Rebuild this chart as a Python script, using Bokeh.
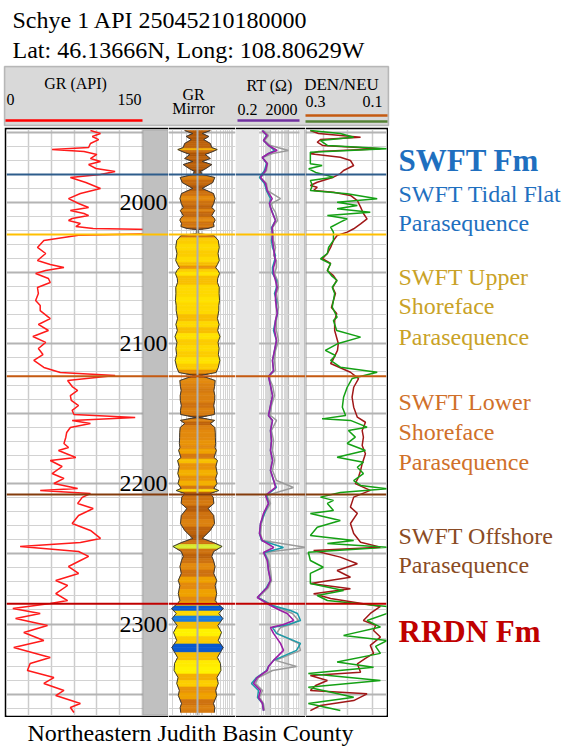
import numpy as np
from bokeh.plotting import figure
from bokeh.layouts import row, column, Spacer
from bokeh.models import Range1d, FixedTicker, Span, BoxAnnotation, LinearColorMapper, ColumnDataSource
from bokeh.core.properties import value
from bokeh.embed import file_html
from bokeh.resources import INLINE

gr_depth = [1948.8, 1950.9, 1953.0, 1955.2, 1958.0, 1960.9, 1962.3, 1963.7, 1965.8, 1968.7,
            1970.8, 1973.0, 1975.8, 1977.9, 1980.1, 1982.2, 1985.8, 1990.0, 1993.6, 1997.2,
            2000.7, 2003.6, 2005.7, 2007.8, 2009.3, 2011.4, 2012.8, 2014.9, 2017.1, 2018.5,
            2019.2, 2022.3, 2023.3, 2027.0, 2032.0, 2036.3, 2041.3, 2044.1, 2046.3, 2048.4,
            2050.5, 2054.1, 2056.9, 2060.5, 2064.8, 2069.7, 2073.3, 2076.9, 2082.6, 2086.8,
            2091.1, 2095.4, 2099.6, 2103.9, 2108.2, 2112.4, 2117.4, 2121.0, 2123.1, 2126.7,
            2131.0, 2133.8, 2137.4, 2140.9, 2144.5, 2148.0, 2150.9, 2153.0, 2155.1, 2157.3,
            2160.1, 2163.7, 2167.2, 2171.5, 2174.4, 2176.5, 2181.5, 2183.6, 2187.9, 2192.9,
            2196.4, 2200.0, 2203.5, 2205.0, 2207.1, 2209.9, 2214.2, 2217.8, 2222.8, 2228.5,
            2233.4, 2239.1, 2242.0, 2244.8, 2248.4, 2251.9, 2254.8, 2259.1, 2264.0, 2269.0,
            2272.6, 2278.3, 2283.3, 2285.4, 2289.0, 2292.5, 2296.1, 2301.1, 2306.0, 2311.7,
            2316.7, 2323.8, 2328.1, 2333.1, 2338.1, 2342.3, 2347.3, 2350.9, 2356.6, 2359.4,
            2363.0]
gr_api = [93, 104, 95, 102, 93, 91, 51, 86, 100, 93,
          104, 91, 99, 120, 104, 71, 88, 104, 82, 69,
          80, 91, 71, 86, 91, 73, 69, 82, 77, 96,
          160, 160, 80, 42, 35, 44, 35, 49, 64, 44,
          33, 47, 49, 35, 36, 33, 38, 38, 49, 36,
          47, 30, 44, 36, 41, 31, 42, 60, 120, 68,
          73, 79, 71, 72, 80, 73, 75, 142, 73, 93,
          71, 67, 66, 64, 69, 58, 77, 49, 62, 51,
          64, 53, 79, 38, 93, 84, 79, 96, 80, 73,
          93, 104, 82, 16, 80, 91, 82, 69, 80, 55,
          68, 55, 68, 49, 8, 38, 11, 46, 20, 42,
          9, 49, 27, 24, 53, 42, 64, 55, 82, 71,
          75]

rt_depth = [1948.8, 1952.3, 1955.9, 1959.4, 1963.0, 1965.1, 1968.0, 1972.2, 1977.2, 1982.2,
            1986.5, 1991.5, 1997.2, 2000.7, 2003.6, 2007.1, 2012.8, 2017.8, 2022.1, 2027.0,
            2032.0, 2037.7, 2041.3, 2046.3, 2050.5, 2055.5, 2060.5, 2064.8, 2069.7, 2074.7,
            2079.0, 2084.0, 2091.1, 2098.2, 2105.3, 2112.4, 2119.6, 2123.8, 2130.2, 2137.4,
            2144.5, 2151.6, 2155.1, 2162.3, 2169.4, 2176.5, 2183.6, 2190.7, 2197.9, 2202.8,
            2208.5, 2214.2, 2221.3, 2228.5, 2235.6, 2240.6, 2245.5, 2249.1, 2254.8, 2261.9,
            2269.0, 2274.0, 2281.1, 2286.8, 2290.4, 2292.5, 2297.5, 2300.3, 2302.5, 2306.7,
            2313.8, 2318.8, 2325.9, 2330.2, 2333.1, 2338.1, 2342.3, 2347.3, 2352.3, 2356.6,
            2361.6]
rt_deep = [6.71, 13.0, 7.96, 15.4, 48.3, 15.4, 6.71, 13.0, 10.4, 5.37,
           10.4, 13.0, 25.0, 17.5, 20, 25.0, 38.6, 25.0, 25.0, 26.0,
           29.7, 33.9, 38.6, 29.7, 29.7, 38.6, 48.3, 38.6, 38.6, 44.0,
           48.3, 38.6, 33.9, 44.0, 33.9, 26.0, 29.7, 15.4, 20, 26.0,
           20, 15.4, 26.0, 20, 22.8, 20, 26.0, 20, 30.9, 38.6,
           10.4, 15.4, 7.96, 5.37, 4.70, 6.71, 30.9, 7.96, 13.0, 15.4,
           20, 13.0, 3.48, 20, 74.5, 180, 429, 111, 20, 29.7,
           74.5, 111, 29.7, 15.4, 13.0, 3.48, 2.14, 5.37, 4.12, 6.98,
           7.96]
rt_medium = [6.98, 11.8, 7.96, 15.4, 33.9, 15.4, 6.98, 11.8, 9.08, 4.70,
             9.08, 11.8, 20, 17.5, 20, 26.0, 38.6, 22.8, 26.0, 22.8,
             26.0, 38.6, 33.9, 26.0, 26.0, 44.0, 44.0, 33.9, 44.0, 44.0,
             50.2, 38.6, 29.7, 44.0, 33.9, 26.0, 29.7, 15.4, 20, 26.0,
             20, 15.4, 26.0, 20, 22.8, 20, 26.0, 20, 29.7, 44.0,
             11.8, 15.4, 9.08, 5.37, 4.70, 6.12, 111, 9.08, 13.5, 15.4,
             20, 11.8, 3.62, 26.0, 278, 698, 1036, 214, 26.0, 44.0,
             1036, 612, 29.7, 15.4, 11.8, 3.17, 1.64, 4.12, 3.62, 6.98,
             7.96]
rt_shallow = [7.96, 15.4, 9.08, 20, 214, 26.0, 6.98, 13.5, 11.8, 5.37,
              11.8, 13.5, 74.5, 22.8, 26.0, 38.6, 50.2, 26.0, 29.7, 29.7,
              38.6, 29.7, 44.0, 44.0, 33.9, 50.2, 57.3, 44.0, 50.2, 57.3,
              50.2, 44.0, 44.0, 57.3, 38.6, 33.9, 38.6, 15.4, 26.0, 33.9,
              22.8, 20, 44.0, 22.8, 29.7, 26.0, 33.9, 26.0, 44.0, 412,
              11.8, 20, 9.08, 6.12, 5.37, 6.98, 2000, 9.08, 15.4, 20,
              22.8, 15.4, 4.12, 26.0, 144, 362, 796, 278, 74.5, 44.0,
              796, 1036, 38.6, 612, 26.0, 4.12, 2.78, 6.98, 4.70, 7.96,
              9.08]

den_depth = [1948.8, 1950.9, 1953.5, 1955.2, 1957.1, 1959.4, 1961.8, 1963.7, 1965.3, 1967.8,
             1970.1, 1973.7, 1977.2, 1979.4, 1982.0, 1985.6, 1987.9, 1989.1, 1991.5, 1992.7,
             1995.0, 1998.6, 2003.3, 2007.8, 2011.6, 2015.2, 2018.7, 2021.1, 2023.5, 2027.0,
             2032.0, 2036.3, 2039.9, 2043.4, 2048.4, 2052.0, 2055.5, 2060.5, 2064.8, 2069.7,
             2074.7, 2079.0, 2084.0, 2091.1, 2100.3, 2105.3, 2112.4, 2114.6, 2120.8, 2125.3,
             2131.5, 2138.6, 2145.7, 2152.8, 2156.4, 2162.3, 2167.0, 2172.9, 2178.8, 2185.9,
             2190.7, 2195.4, 2200.1, 2204.9, 2209.7, 2216.8, 2221.3,
             2228.5, 2235.6, 2241.8, 2245.3, 2247.7, 2252.4, 2257.1, 2261.9, 2266.7, 2271.2,
             2274.9, 2278.5, 2281.8, 2287.5, 2292.5, 2297.5, 2301.0, 2304.6, 2309.3, 2315.2,
             2320.9, 2324.5, 2328.3, 2334.3, 2336.6, 2340.2, 2343.8, 2347.3, 2349.7, 2354.5,
             2358.0, 2361.6]
den = [0.288, 0.268, 0.164, 0.263, 0.271, 0.258, 0.115, 0.268, 0.288, 0.214,
       0.189, 0.181, 0.206, 0.214, 0.231, 0.271, 0.288, 0.271, 0.280, 0.231,
       0.189, 0.172, 0.164, 0.157, 0.148, 0.164, 0.181, 0.197, 0.222, 0.231,
       0.238, 0.246, 0.258, 0.238, 0.246, 0.231, 0.223, 0.233, 0.226, 0.231,
       0.236, 0.223, 0.228, 0.228, 0.219, 0.221, 0.233, 0.238, 0.189, 0.169,
       0.181, 0.185, 0.181, 0.172, 0.152, 0.160, 0.157, 0.160, 0.152, 0.160,
       0.164, 0.169, 0.177, 0.140, 0.181, 0.189, 0.172,
       0.189, 0.181, 0.164, 0.115, 0.280, 0.214, 0.172, 0.222, 0.189, 0.288,
       0.189, 0.280, 0.238, 0.115, 0.140, 0.157, 0.127, 0.132, 0.115, 0.140,
       0.132, 0.152, 0.172, 0.164, 0.288, 0.246, 0.275, 0.288, 0.148, 0.181,
       0.263, 0.288]

neu_depth = [1948.8, 1950.9, 1953.5, 1955.9, 1959.4, 1961.8, 1964.2, 1968.7, 1972.5, 1973.7,
             1976.0, 1978.6, 1980.8, 1982.0, 1984.3, 1987.9, 1991.5, 1993.8, 1997.4, 1999.8,
             2002.1, 2004.5, 2006.9, 2009.3, 2011.6, 2014.0, 2017.6, 2021.1, 2023.5, 2027.0,
             2032.0, 2036.3, 2040.1, 2043.6, 2048.4, 2052.0, 2055.5, 2060.3, 2064.8, 2069.7,
             2074.5, 2081.6, 2084.0, 2091.1, 2095.8, 2100.3, 2105.3, 2108.9, 2112.4, 2117.2,
             2120.8, 2125.3, 2131.5, 2138.6, 2145.7, 2151.6, 2154.0, 2155.1, 2159.9, 2162.3,
             2167.0, 2171.5, 2176.5, 2181.3, 2184.8, 2188.4, 2192.9, 2197.9, 2201.4, 2203.8,
             2206.4, 2209.7, 2212.0, 2214.2, 2219.2, 2221.3, 2226.3, 2231.1, 2237.0,
             2240.6, 2242.7, 2245.3, 2248.9, 2254.8, 2259.6, 2264.0, 2271.2, 2276.1, 2279.7,
             2283.3, 2287.5, 2292.5, 2297.5, 2302.2, 2308.1, 2311.7, 2315.9, 2320.9, 2327.1,
             2330.7, 2335.2, 2340.2, 2345.0, 2352.1, 2356.6, 2361.6]
neu = [0.288, 0.214, 0.181, 0.263, 0.246, 0.098, 0.288, 0.288, 0.288, 0.259,
       0.292, 0.275, 0.246, 0.231, 0.288, 0.283, 0.288, 0.197, 0.123, 0.222,
       0.172, 0.222, 0.140, 0.246, 0.197, 0.214, 0.238, 0.231, 0.231, 0.231,
       0.243, 0.246, 0.263, 0.238, 0.246, 0.236, 0.222, 0.234, 0.228, 0.231,
       0.234, 0.222, 0.231, 0.223, 0.164, 0.219, 0.251, 0.226, 0.238, 0.214,
       0.123, 0.185, 0.197, 0.206, 0.209, 0.201, 0.259, 0.189, 0.148, 0.194,
       0.177, 0.197, 0.152, 0.222, 0.157, 0.172, 0.157, 0.181, 0.164, 0.098,
       0.214, 0.263, 0.231, 0.246, 0.231, 0.288, 0.214, 0.271, 0.288,
       0.181, 0.246, 0.098, 0.293, 0.288, 0.256, 0.288, 0.288, 0.206, 0.271,
       0.246, 0.098, 0.098, 0.148, 0.115, 0.206, 0.098, 0.127, 0.115, 0.222,
       0.132, 0.293, 0.115, 0.293, 0.181, 0.293, 0.214]

tops_depth = [1980.1, 2022.8, 2123.6, 2207.8, 2285.6]
tops_color = ["#2e5d8c", "#ffc000", "#c55a11", "#843c0c", "#c00000"]

depth_labels = [2000, 2100, 2200, 2300]

zone_text = ["SWFT Tidal Flat", "Parasequence", "SWFT Upper", "Shoreface", "Parasequence",
             "SWFT Lower", "Shoreface", "Parasequence", "SWFT Offshore", "Parasequence"]
zone_depth = [1993.9, 2014.5, 2052.7, 2074.0, 2095.4, 2142.3, 2163.7, 2185.0, 2237.7, 2258.3]
zone_color = ["#1f70c0", "#1f70c0", "#c9a227", "#c9a227", "#c9a227",
              "#d0702a", "#d0702a", "#d0702a", "#8a4b24", "#8a4b24"]
fm_text = ["SWFT Fm", "RRDN Fm"]
fm_depth = [1970.1, 2305.3]
fm_color = ["#1f6fbf", "#c00000"]

for a, b in [(gr_depth, gr_api), (rt_depth, rt_deep), (rt_depth, rt_medium), (rt_depth, rt_shallow),
             (den_depth, den), (neu_depth, neu), (zone_text, zone_depth)]:
    assert len(a) == len(b), (len(a), len(b))

# ---------------- layout constants (page pixels) ----------------
SERIF = "Liberation Serif"
PX_PER_FT = 1.405
Y_2000 = 202.0
FRAME_TOP, FRAME_BOT = 129, 715
D_TOP = 2000 + (FRAME_TOP - Y_2000) / PX_PER_FT
D_BOT = 2000 + (FRAME_BOT - Y_2000) / PX_PER_FT
TRACK_H = (FRAME_BOT - FRAME_TOP) + 4
BOX_L, GR0, GR150, DEP_R, MIR_R, RT_R, DEN_R, BOX_R, PAGE_W = 4, 5, 142, 168, 235, 305, 386, 388, 566
PAGE_H = 748
MIR_C = 197

depth_range = Range1d(start=D_BOT, end=D_TOP)
major_d = list(range(1950, 2400, 50))
minor_d = list(range(1950, 2370, 10))


def make_track(width, x_range, x_axis_type="linear", left=0, right=0):
    p = figure(width=width, height=TRACK_H, x_range=x_range, y_range=depth_range,
               x_axis_type=x_axis_type, x_axis_location=None, y_axis_location=None,
               toolbar_location=None, output_backend="svg", min_border=0,
               min_border_left=left, min_border_right=right, min_border_top=2, min_border_bottom=2)
    p.border_fill_color = "black"
    p.background_fill_color = "white"
    p.outline_line_color = None
    p.ygrid.ticker = FixedTicker(ticks=major_d, minor_ticks=minor_d)
    p.ygrid.grid_line_color = "#b4b4b4"
    p.ygrid.grid_line_width = 2
    p.ygrid.minor_grid_line_color = "#d2d2d2"
    p.ygrid.minor_grid_line_width = 1.2
    return p


def add_tops(p):
    for d, c in zip(tops_depth, tops_color):
        p.add_layout(Span(location=d, dimension="width", line_color=c, line_width=2))


# ---------------- GR + depth track ----------------
gr_scale = 150.0 / (GR150 - GR0)
p_gr = make_track(DEP_R - BOX_L, Range1d((BOX_L + 2 - GR0) * gr_scale, (DEP_R - GR0) * gr_scale), left=2)
p_gr.xgrid.ticker = FixedTicker(ticks=[25, 50, 75, 100, 125])
p_gr.xgrid.grid_line_color = "#cccccc"
p_gr.xgrid.grid_line_width = 1.5
p_gr.line(gr_api, gr_depth, line_color="#ff1a1a", line_width=1.5)
p_gr.add_layout(BoxAnnotation(left=150, fill_color="#c0c0c0", fill_alpha=1,
                              line_color="#7a7a7a", line_width=2))
p_gr.text(x=[p_gr.x_range.end] * len(depth_labels), y=depth_labels,
          text=[str(d) for d in depth_labels], text_align="right", text_baseline="middle",
          x_offset=-1, text_font=value(SERIF), text_font_size=value("24px"),
          text_color="black", level="overlay")
add_tops(p_gr)

# ---------------- GR mirror track ----------------
palette = ["#0a3fb8", "#0a5ad0", "#1a7ce0", "#d8ec30", "#fff200", "#ffeb00", "#ffe200", "#fed900",
           "#fccd00", "#f8bf00", "#f4b000", "#efa100", "#e99408", "#e38a0e", "#dc8210", "#d57a10",
           "#ce7210", "#c66a0e", "#be630c", "#b65d0a", "#ae5708", "#a65107", "#9e4c06", "#964806"]
mapper = LinearColorMapper(palette=palette, low=0, high=120, low_color=palette[0], high_color=palette[-1])
p_mir = make_track(MIR_R - DEP_R, Range1d(DEP_R - MIR_C, MIR_R - MIR_C))
mir_ticks = [DEP_R - MIR_C + 4 + 30 * np.log10(k) for k in range(1, 11)] + \
            [DEP_R - MIR_C + 34 + 30 * np.log10(k) for k in range(2, 11)]
p_mir.xgrid.ticker = FixedTicker(ticks=mir_ticks)
p_mir.xgrid.grid_line_color = "#d4d4d4"
p_mir.xgrid.grid_line_width = 1

g = np.array(gr_api, float)
gd = np.array(gr_depth, float)
half = np.interp(g, [0, 40, 90, 105, 150], [27, 21, 15, 4, 1])
xs, ys, cv = [], [], []
for i in range(len(gd) - 1):
    hm = 0.5 * (half[i] + half[i + 1])
    dm = 0.5 * (gd[i] + gd[i + 1])
    xs.append([-half[i], half[i], hm, -hm]); ys.append([gd[i], gd[i], dm, dm]); cv.append(g[i])
    xs.append([-hm, hm, half[i + 1], -half[i + 1]]); ys.append([dm, dm, gd[i + 1], gd[i + 1]]); cv.append(g[i + 1])
mir_src = ColumnDataSource(data={"xs": xs, "ys": ys, "c": cv})
p_mir.patches(xs="xs", ys="ys", fill_color={"field": "c", "transform": mapper},
              line_color={"field": "c", "transform": mapper}, line_width=0.6, source=mir_src)
p_mir.line(-half, gd, line_color="#3a3a3a", line_width=1)
p_mir.line(half, gd, line_color="#3a3a3a", line_width=1)
p_mir.add_layout(Span(location=0, dimension="height", line_color="#b0b0b0", line_width=2))
add_tops(p_mir)

# ---------------- RT track ----------------
p_rt = make_track(RT_R - MIR_R, Range1d(0.2, 2000), x_axis_type="log")
p_rt.add_layout(BoxAnnotation(left=0.2, right=4.5, fill_color="#e6e6e6", fill_alpha=1, line_color=None, level="underlay"))
p_rt.add_layout(BoxAnnotation(left=900, right=2000, fill_color="#e6e6e6", fill_alpha=1, line_color=None, level="underlay"))
decades = [0.2, 2, 20, 200, 2000]
p_rt.xgrid.ticker = FixedTicker(ticks=decades,
                                minor_ticks=[b * m for b in decades[:-1] for m in range(2, 10)])
p_rt.xgrid.grid_line_color = "#bdbdbd"
p_rt.xgrid.grid_line_width = 1.2
p_rt.xgrid.minor_grid_line_color = "#d8d8d8"
p_rt.line(rt_shallow, rt_depth, line_color="#9a9a9a", line_width=1.5)
p_rt.line(rt_medium, rt_depth, line_color="#1a9aa8", line_width=1.5)
p_rt.line(rt_deep, rt_depth, line_color="#9b1fa6", line_width=1.6)
p_rt.add_layout(Span(location=2000, dimension="height", line_color="#9a9a9a", line_width=2))
add_tops(p_rt)

# ---------------- DEN / NEU track ----------------
p_dn = make_track(BOX_R - RT_R, Range1d(0.3, 0.1), right=BOX_R - DEN_R)
p_dn.xgrid.ticker = FixedTicker(ticks=[0.256, 0.196, 0.135])
p_dn.xgrid.grid_line_color = "#cccccc"
p_dn.xgrid.grid_line_width = 1.5
p_dn.line(den, den_depth, line_color="#a01818", line_width=1.5)
p_dn.line(neu, neu_depth, line_color="#14a014", line_width=1.5)
p_dn.add_layout(Span(location=0.3, dimension="height", line_color="#9a9a9a", line_width=2))
add_tops(p_dn)

# ---------------- zone labels ----------------
p_lab = figure(width=PAGE_W - BOX_R, height=TRACK_H, x_range=Range1d(BOX_R, PAGE_W), y_range=depth_range,
               x_axis_location=None, y_axis_location=None, toolbar_location=None,
               output_backend="svg", min_border=0, min_border_top=2, min_border_bottom=2)
p_lab.outline_line_color = None
p_lab.xgrid.visible = False
p_lab.ygrid.visible = False
p_lab.text(x=[398] * len(zone_text), y=zone_depth, text=zone_text, text_color=zone_color,
           text_font=value(SERIF), text_font_size=value("24px"), text_baseline="middle")
p_lab.text(x=[398] * len(fm_text), y=fm_depth, text=fm_text, text_color=fm_color,
           text_font=value(SERIF), text_font_size=value("31px"), text_font_style="bold",
           text_baseline="middle")

# ---------------- header (titles + track headers) ----------------
HDR_H = FRAME_TOP - 2
p_hd = figure(width=PAGE_W, height=HDR_H, x_range=Range1d(0, PAGE_W),
              y_range=Range1d(HDR_H, 0), x_axis_location=None, y_axis_location=None,
              toolbar_location=None, output_backend="svg", min_border=0)
p_hd.outline_line_color = None
p_hd.xgrid.visible = False
p_hd.ygrid.visible = False
p_hd.text(x=[12, 12], y=[19, 49], text=["Schye 1 API 25045210180000", "Lat: 46.13666N, Long: 108.80629W"],
          text_font=value(SERIF), text_font_size=value("24px"), text_baseline="middle", text_color="black")
p_hd.add_layout(BoxAnnotation(left=BOX_L, right=BOX_R, top=66, bottom=125, fill_color="#d9d9d9",
                              fill_alpha=1, line_color="#3c3c3c", line_width=1.5, level="underlay"))
hdr = [("GR (API)", 75, 83, "center", "16px"),
       ("0", GR0 + 1, 99, "left", "16px"),
       ("150", GR150 - 1, 99, "right", "16px"),
       ("GR", MIR_C - 4, 94, "center", "16px"),
       ("Mirror", MIR_C - 4, 108, "center", "16px"),
       ("RT (Ω)", 269, 85, "center", "16px"),
       ("0.2", MIR_R + 2, 109, "left", "16px"),
       ("2000", RT_R - 8, 109, "right", "16px"),
       ("DEN/NEU", 341, 84, "center", "17px"),
       ("0.3", RT_R, 101, "left", "16px"),
       ("0.1", DEN_R - 4, 101, "right", "16px")]
for t, x, y, al, fs in hdr:
    p_hd.text(x=[x], y=[y], text=[t], text_align=al, text_baseline="middle",
              text_font=value(SERIF), text_font_size=value(fs), text_color="black")
p_hd.segment(x0=[GR0, MIR_R + 2, RT_R, RT_R], x1=[GR150, RT_R - 6, BOX_R - 1, BOX_R - 1],
             y0=[120, 120, 115, 121], y1=[120, 120, 115, 121],
             line_color=["#ff0000", "#7030a0", "#c55a11", "#548235"], line_width=2.5)

# ---------------- footer ----------------
FT_H = PAGE_H - (FRAME_BOT + 2)
p_ft = figure(width=PAGE_W, height=FT_H, x_range=Range1d(0, PAGE_W), y_range=Range1d(PAGE_H, FRAME_BOT + 2),
              x_axis_location=None, y_axis_location=None, toolbar_location=None,
              output_backend="svg", min_border=0)
p_ft.outline_line_color = None
p_ft.xgrid.visible = False
p_ft.ygrid.visible = False
p_ft.text(x=[190], y=[732], text=["Northeastern Judith Basin County"], text_align="center",
          text_baseline="middle", text_font=value(SERIF), text_font_size=value("24px"),
          text_color="black")

layout = column(p_hd,
                row(Spacer(width=BOX_L, height=TRACK_H), p_gr, p_mir, p_rt, p_dn, p_lab, spacing=0),
                p_ft, spacing=0)
open("out.html", "w").write(file_html(layout, INLINE, title="Schye 1 well log"))
